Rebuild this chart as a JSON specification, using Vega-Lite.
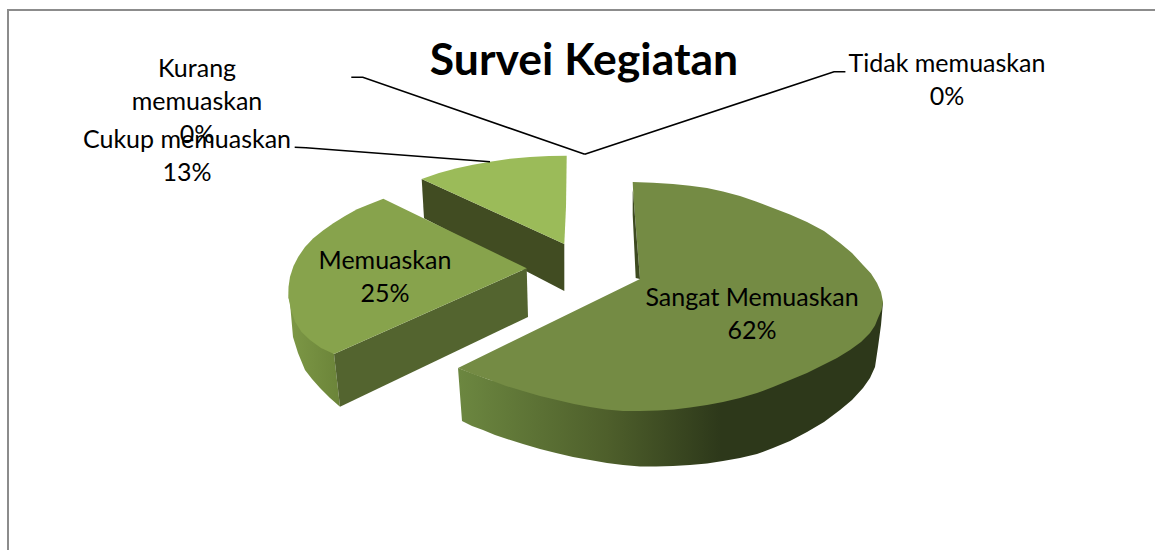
{
"$schema":"https://vega.github.io/schema/vega-lite/v6.json",
"width":1155,"height":550,"padding":0,"autosize":{"type":"none"},
"background":"white",
"config":{"view":{"stroke":null}},
"projection":{"type":"identity","scale":1,"translate":[0,0]},
"datasets":{
"faces":[
{"type":"Feature","category":"Cukup memuaskan","percent":13,"face":"cukup wall","geometry":{"type":"Polygon","coordinates":[[[421.7,179],[564.3,244],[564.3,291],[424,218.3],[421.7,179]]]}},
{"type":"Feature","category":"Cukup memuaskan","percent":13,"face":"cukup top","geometry":{"type":"Polygon","coordinates":[[[421.7,179],[439,173],[456.7,168.3],[473,164.7],[490,161.7],[510,158.8],[530,156.9],[549,156],[566.7,155.7],[566.4,180],[566,206.7],[564.3,244],[421.7,179]]]}},
{"type":"Feature","category":"Memuaskan","percent":25,"face":"memuaskan front","geometry":{"type":"Polygon","coordinates":[[[334,354],[526.7,268.3],[528,317],[340,406.7],[334,354]]]}},
{"type":"Feature","category":"Memuaskan","percent":25,"face":"memuaskan top","geometry":{"type":"Polygon","coordinates":[[[383.3,198.7],[526.7,268.3],[334,354],[321,348],[310,340],[301.5,332],[295,321.7],[291,310],[288.3,296.7],[288.5,287],[290,276.7],[293.5,266],[298.3,256.7],[305,247],[313.3,238.3],[323,230.5],[333.3,223.3],[345,216],[357,209.3],[370,204],[383.3,198.7]]]}},
{"type":"Feature","category":"Sangat Memuaskan","percent":62,"face":"sangat top","geometry":{"type":"Polygon","coordinates":[[[632.7,182],[653,182.7],[673,184],[690,185.7],[707,188],[723,191.5],[740,196],[756,201.5],[773,208],[790,214.5],[807,222],[824,231],[840,243],[852,253],[863,265],[871,273.5],[877,283],[881,292],[883,302],[881.5,310],[878,318],[875,325.5],[870,333],[861,342],[850,350],[837,358],[823,365],[807,373],[790,380],[773,387],[757,393],[740,398],[723,402],[707,405],[690,407.5],[674,409.5],[658,410.5],[640,411],[623,411],[606,409.5],[590,407],[574,404],[557,400],[540,396],[523,391],[506,386],[490,380],[474,374.5],[458,368],[640,279],[633.3,195],[632.7,182]]]}},
{"type":"Feature","category":"Sangat Memuaskan","percent":62,"face":"sangat inner","geometry":{"type":"Polygon","coordinates":[[[632.7,190],[632.7,215],[634.3,248],[635.7,278],[640,279],[637,242],[633.3,195],[632.7,190]]]}}
],
"walls":[
{"type":"Feature","category":"Memuaskan","percent":25,"face":"memuaskan outer","geometry":{"type":"Polygon","coordinates":[[[288.3,296.7],[334,354],[340,406.7],[330,398],[320,388],[312,379],[305,370],[298,353],[293,337],[290,303],[288.3,296.7]]]}}
],
"rim":[
{"type":"Feature","category":"Sangat Memuaskan","percent":62,"face":"sangat outer","geometry":{"type":"Polygon","coordinates":[[[883,302],[881,325],[878,347],[875,367],[870,378],[863,388],[852,400],[840,410],[824,422],[807,432],[790,441],[773,448],[757,454],[740,458],[723,461],[707,463.5],[690,465],[673,466],[656,466.5],[640,466.5],[623,465],[607,463],[590,460],[573,457],[556,453],[540,449],[523,444],[507,439],[495,435],[483,430],[472,426],[462,421],[458,368],[490,380],[640,405],[883,302]]]}}
],
"leaders":[
{"type":"Feature","category":"Kurang memuaskan","geometry":{"type":"LineString","coordinates":[[351.3,77.3],[362.8,77.3],[584.8,154.3]]}},
{"type":"Feature","category":"Tidak memuaskan","geometry":{"type":"LineString","coordinates":[[584.7,154.3],[834,71.7],[845.4,71.7]]}},
{"type":"Feature","category":"Cukup memuaskan","geometry":{"type":"LineString","coordinates":[[294.7,147.3],[306,147.7],[490,161.7]]}}
],
"frame":[
{"type":"Feature","geometry":{"type":"LineString","coordinates":[[8,560],[8,10],[1160,10]]}}
],
"labels":[
{"label":"Kurang\nmemuaskan\n0%","lon":197,"lat":69},
{"label":"Cukup memuaskan\n13%","lon":187,"lat":140},
{"label":"Memuaskan\n25%","lon":385,"lat":261},
{"label":"Sangat Memuaskan\n62%","lon":752,"lat":298},
{"label":"Tidak memuaskan\n0%","lon":947,"lat":64}
],
"title":[{"label":"Survei Kegiatan","lon":584,"lat":62}]
},
"layer":[
{"data":{"name":"frame"},"mark":{"type":"geoshape","filled":false,"stroke":"#8c8c8c","strokeWidth":2}},
{"data":{"name":"rim"},"mark":{"type":"geoshape","stroke":null,"fill":{"gradient":"linear","x1":0,"y1":0,"x2":1,"y2":0,"stops":[{"offset":0,"color":"#6c8740"},{"offset":0.35,"color":"#4e5f2b"},{"offset":0.62,"color":"#2d381a"},{"offset":1,"color":"#2d381a"}]}}},
{"data":{"name":"walls"},"mark":{"type":"geoshape","stroke":null,"fill":{"gradient":"linear","x1":0,"y1":0,"x2":1,"y2":0,"stops":[{"offset":0,"color":"#7d9846"},{"offset":1,"color":"#6b8439"}]}}},
{"data":{"name":"faces"},"mark":{"type":"geoshape","strokeWidth":0},"encoding":{"color":{"field":"face","type":"nominal","legend":null,"scale":{"domain":["cukup wall","cukup top","memuaskan front","memuaskan top","sangat inner","sangat top"],"range":["#414c22","#9bbb59","#53642f","#87a34c","#3d4a20","#748b44"]}}}},
{"data":{"name":"leaders"},"mark":{"type":"geoshape","filled":false,"stroke":"#000000","strokeWidth":1.6}},
{"data":{"name":"labels"},"mark":{"type":"text","font":"Lato","fontSize":25,"lineBreak":"\n","lineHeight":33,"align":"center","baseline":"middle","color":"#000000"},"encoding":{"longitude":{"field":"lon","type":"quantitative"},"latitude":{"field":"lat","type":"quantitative"},"text":{"field":"label","type":"nominal"}}},
{"data":{"name":"title"},"mark":{"type":"text","font":"Lato","fontSize":44.5,"fontWeight":"bold","align":"center","baseline":"middle","color":"#000000"},"encoding":{"longitude":{"field":"lon","type":"quantitative"},"latitude":{"field":"lat","type":"quantitative"},"text":{"field":"label","type":"nominal"}}}
]
}
